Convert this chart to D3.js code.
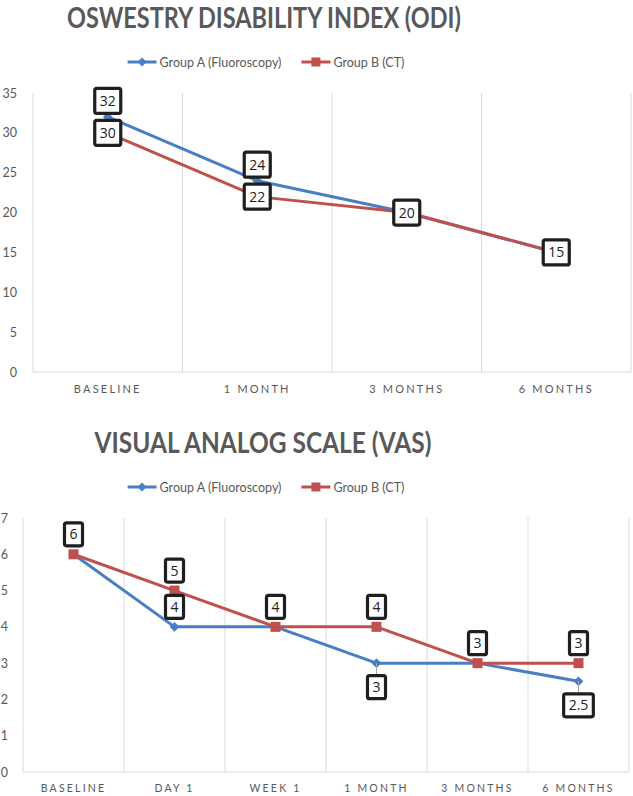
<!DOCTYPE html>
<html>
<head>
<meta charset="utf-8">
<script src="https://cdn.jsdelivr.net/npm/d3@7"></script>
<style>
  body { margin: 0; background: #fff; }
  svg { display: block; font-family: Lato, "Open Sans", sans-serif; }
</style>
</head>
<body>
<div id="chart"></div>
<script>
// ODI data
const odiCategories = ["BASELINE", "1 MONTH", "3 MONTHS", "6 MONTHS"];
const odiGroupA = [32, 24, 20, 15];
const odiGroupB = [30, 22, 20, 15];
const odiTicks = [0, 5, 10, 15, 20, 25, 30, 35];

// VAS data
const vasCategories = ["BASELINE", "DAY 1", "WEEK 1", "1 MONTH", "3 MONTHS", "6 MONTHS"];
const vasGroupA = [6, 4, 4, 3, 3, 2.5];
const vasGroupB = [6, 5, 4, 4, 3, 3];
const vasTicks = [0, 1, 2, 3, 4, 5, 6, 7];

const seriesNames = ["Group A (Fluoroscopy)", "Group B (CT)"];
const blue = "#4A7EC4", red = "#C0504D", gray = "#595959";

const svg = d3.select("#chart").append("svg")
    .attr("width", 633)
    .attr("height", 796);

function drawChart(opt) {
    const g = svg.append("g");

    // title
    g.append("text")
        .attr("x", opt.titleX).attr("y", opt.titleY)
        .attr("text-anchor", "middle")
        .attr("textLength", opt.titleW)
        .attr("lengthAdjust", "spacingAndGlyphs")
        .style("font-size", "28px").style("font-weight", "bold")
        .style("fill", gray)
        .text(opt.title);

    // legend
    const leg = g.append("g");
    let lx = 0;
    seriesNames.forEach((name, i) => {
        const item = leg.append("g").attr("transform", `translate(${lx},0)`);
        const col = i === 0 ? blue : red;
        item.append("line").attr("x1", 0).attr("x2", 29).attr("y1", 0).attr("y2", 0)
            .style("stroke", col).style("stroke-width", 3);
        if (i === 0) {
            item.append("path").attr("d", d3.symbol(d3.symbolDiamond2, 50)())
                .attr("transform", "translate(14.5,0)").style("fill", col);
        } else {
            item.append("rect").attr("x", 10).attr("y", -4.5).attr("width", 9).attr("height", 9).style("fill", col);
        }
        const t = item.append("text").attr("x", 32).attr("y", 4.5)
            .style("font-size", "12.5px").style("fill", gray).text(name);
        lx += 32 + t.node().getComputedTextLength() + 20;
    });
    const legW = lx - 20;
    leg.attr("transform", `translate(${opt.legendCx - legW / 2},${opt.legendY})`);

    // scales
    const x = d3.scaleBand().domain(opt.categories).range([opt.left, opt.right]);
    const y = d3.scaleLinear().domain([0, d3.max(opt.ticks)]).range([opt.bottom, opt.top]);
    const cx = d => x(d) + x.bandwidth() / 2;

    // vertical gridlines at band boundaries
    const bounds = opt.categories.map(c => x(c)).concat([opt.right]);
    g.selectAll(".vgrid").data(bounds).enter().append("line")
        .attr("x1", d => d).attr("x2", d => d)
        .attr("y1", opt.top).attr("y2", opt.bottom)
        .style("stroke", "#D9D9D9").style("stroke-width", 1);
    g.append("line")
        .attr("x1", opt.left).attr("x2", opt.right)
        .attr("y1", opt.bottom).attr("y2", opt.bottom)
        .style("stroke", "#D9D9D9").style("stroke-width", 1);

    // y axis labels
    const yAxis = g.append("g").attr("transform", `translate(${opt.yLabelX},0)`)
        .call(d3.axisLeft(y).tickValues(opt.ticks).tickFormat(d3.format("d"))
            .tickSize(0).tickPadding(0));
    yAxis.select(".domain").remove();
    yAxis.selectAll("text").style("font-size", "12.5px").style("fill", gray)
        .style("font-family", "Lato, 'Open Sans', sans-serif");

    // x axis labels
    const xAxis = g.append("g").attr("transform", `translate(0,${opt.bottom})`)
        .call(d3.axisBottom(x).tickSize(0).tickPadding(opt.xPad));
    xAxis.select(".domain").remove();
    xAxis.selectAll("text").style("font-size", opt.xFont).style("fill", gray)
        .style("letter-spacing", "2.2px")
        .style("font-family", "Lato, 'Open Sans', sans-serif");

    // lines
    const line = d3.line().x((d, i) => cx(opt.categories[i])).y(d => y(d));
    [[opt.a, blue], [opt.b, red]].forEach(([vals, col], si) => {
        g.append("path").datum(vals).attr("d", line)
            .style("fill", "none").style("stroke", col).style("stroke-width", 3)
            .style("stroke-linejoin", "round");
        if (si === 0) {
            g.selectAll(null).data(vals).enter().append("path")
                .attr("d", d3.symbol(d3.symbolDiamond2, 60)())
                .attr("transform", (d, i) => `translate(${cx(opt.categories[i])},${y(d)})`)
                .style("fill", col);
        } else {
            g.selectAll(null).data(vals).enter().append("rect")
                .attr("x", (d, i) => cx(opt.categories[i]) - 5)
                .attr("y", d => y(d) - 5)
                .attr("width", 10).attr("height", 10)
                .style("fill", col);
        }
    });

    // data labels
    const labels = [];
    opt.b.forEach((v, i) => labels.push({ i, v, side: opt.sideB }));
    opt.a.forEach((v, i) => {
        if (v !== opt.b[i]) labels.push({ i, v, side: opt.sideA[i] });
    });
    labels.forEach(l => {
        const px = cx(opt.categories[l.i]), py = y(l.v);
        let ly = py;
        if (l.side === "above") ly = py - opt.offAbove;
        if (l.side === "below") ly = py + opt.offBelow;
        if (l.side === "below") {
            g.append("line").attr("x1", px).attr("x2", px).attr("y1", py).attr("y2", ly)
                .style("stroke", "#A6A6A6").style("stroke-width", 1);
        }
        const lg = g.append("g").attr("transform", `translate(${px},${ly})`);
        const rect = lg.append("rect");
        const t = lg.append("text").attr("text-anchor", "middle").attr("y", 5)
            .style("font-size", "14px").style("fill", "#222")
            .style("font-family", "'Open Sans', sans-serif")
            .text(l.v);
        const w = t.node().getComputedTextLength() + 10;
        rect.attr("x", -w / 2).attr("y", -opt.boxH / 2).attr("width", w).attr("height", opt.boxH)
            .attr("rx", 2)
            .style("fill", "#fff").style("stroke", "#1f1f1f").style("stroke-width", 3.2);
    });
}

drawChart({
    title: "OSWESTRY DISABILITY INDEX (ODI)",
    titleX: 264, titleY: 28, titleW: 394,
    legendCx: 266, legendY: 62,
    categories: odiCategories, ticks: odiTicks,
    a: odiGroupA, b: odiGroupB,
    left: 33, right: 631, top: 93, bottom: 372, yLabelX: 17,
    xPad: 13, xFont: "11px",
    sideA: ["above", "above", "above", "above"], sideB: "center",
    offAbove: 16, offBelow: 22, boxH: 25
});

drawChart({
    title: "VISUAL ANALOG SCALE (VAS)",
    titleX: 263, titleY: 453, titleW: 337,
    legendCx: 266, legendY: 487,
    categories: vasCategories, ticks: vasTicks,
    a: vasGroupA, b: vasGroupB,
    left: 23, right: 629, top: 518, bottom: 772, yLabelX: 8,
    xPad: 13, xFont: "10.5px",
    sideA: ["above", "above", "above", "below", "above", "below"], sideB: "above",
    offAbove: 20, offBelow: 24, boxH: 23
});
</script>
</body>
</html>
